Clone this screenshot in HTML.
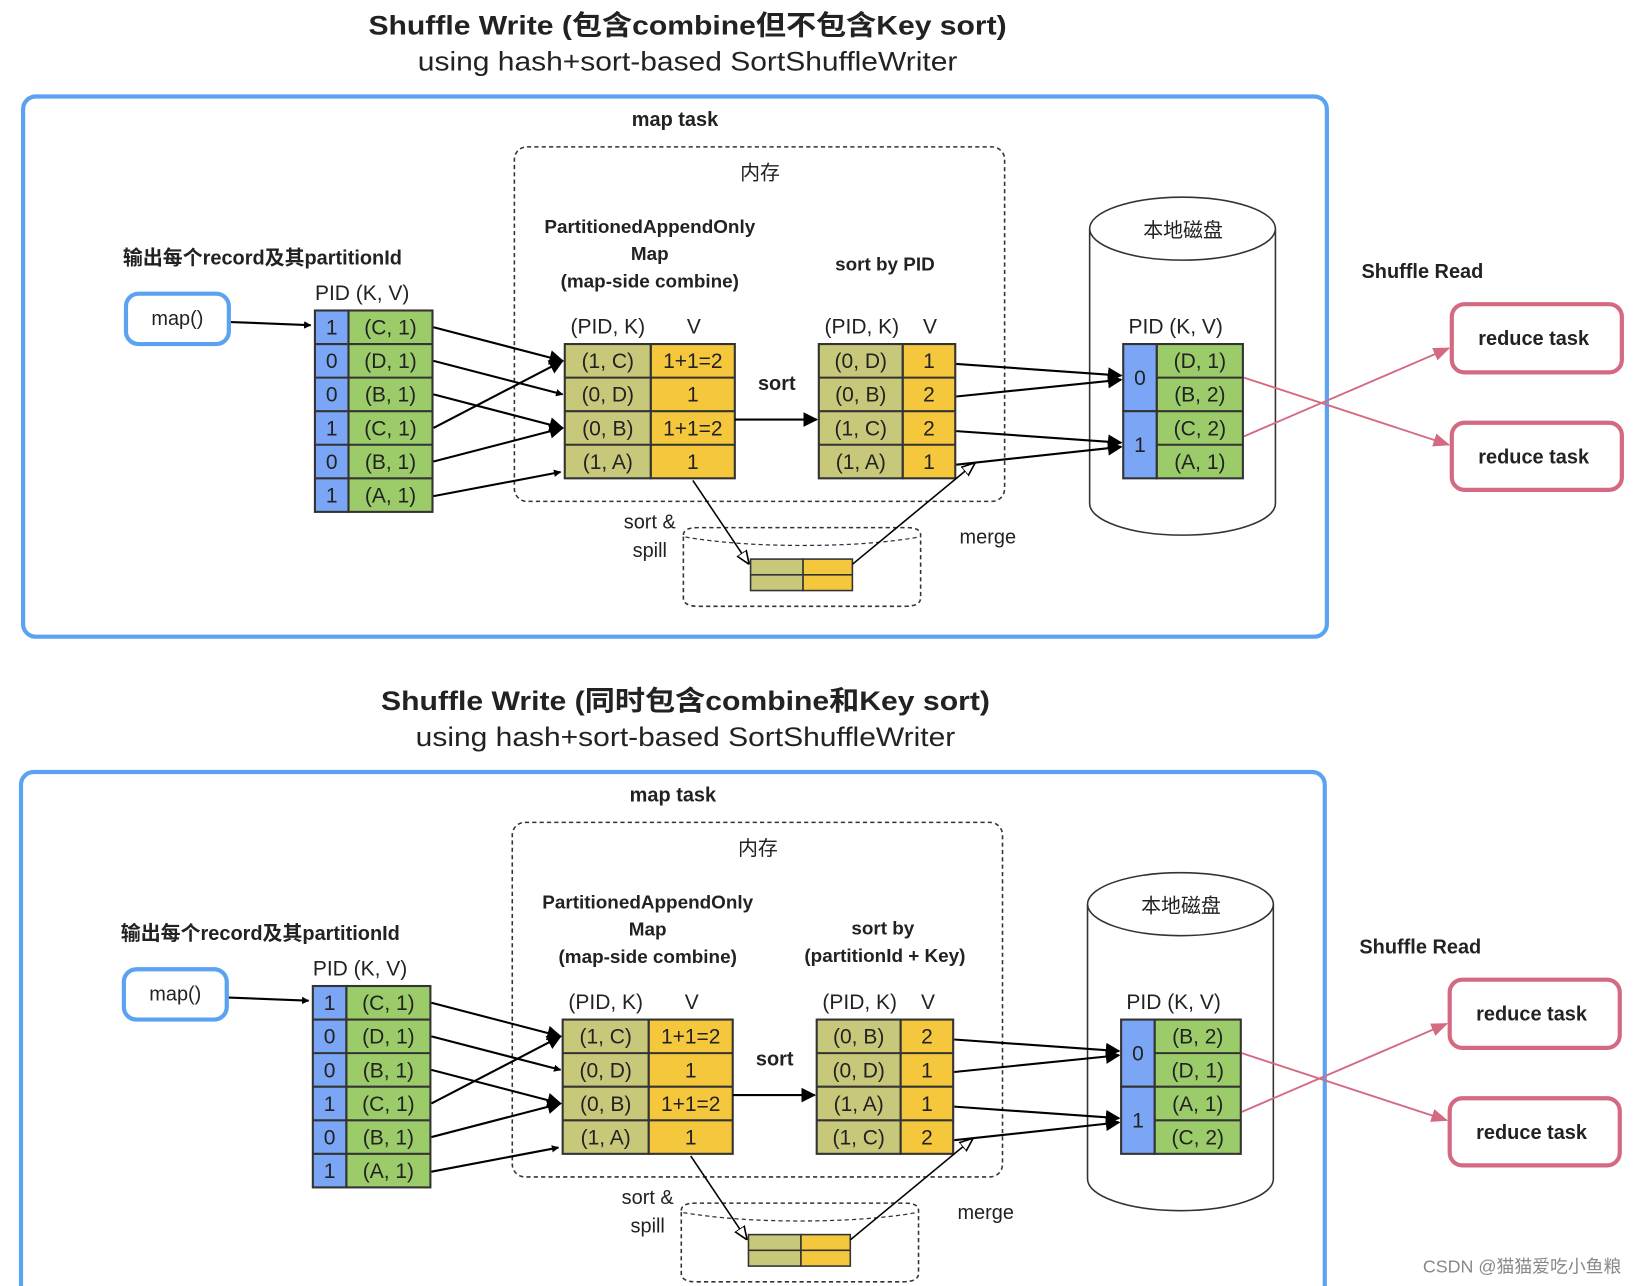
<!DOCTYPE html>
<html><head><meta charset="utf-8"><style>
html,body{margin:0;padding:0;background:#fff;width:1646px;height:1286px;overflow:hidden}
svg{display:block;overflow:hidden}
svg text{font-family:"Liberation Sans","Noto Sans CJK SC",sans-serif;fill:#222}
.b{font-weight:bold}
.c{text-anchor:middle}
</style></head><body>
<svg width="1646" height="1286" viewBox="0 0 1568 1226" preserveAspectRatio="none" xmlns="http://www.w3.org/2000/svg">
<defs>
<marker id="ah" viewBox="0 0 10 10" refX="9" refY="5" markerWidth="7" markerHeight="7" orient="auto" markerUnits="userSpaceOnUse"><path d="M0,0 L10,5 L0,10 z" fill="#000"/></marker>
<marker id="ahb" viewBox="0 0 10 10" refX="9" refY="5" markerWidth="14" markerHeight="14" orient="auto" markerUnits="userSpaceOnUse"><path d="M0,0 L10,5 L0,10 z" fill="#000"/></marker>
<marker id="ao" viewBox="0 0 10 10" refX="9" refY="5" markerWidth="13" markerHeight="13" orient="auto" markerUnits="userSpaceOnUse"><path d="M0,1 L10,5 L0,9 z" fill="#fff" stroke="#000" stroke-width="1.2"/></marker>
<marker id="ap" viewBox="0 0 10 10" refX="9" refY="5" markerWidth="16" markerHeight="16" orient="auto" markerUnits="userSpaceOnUse"><path d="M0,1 L10,5 L0,9 z" fill="#d46a82"/></marker>
</defs>

<!-- ================= TOP ================= -->
<g>
<text x="655" y="33" class="b c" font-size="26" textLength="608" lengthAdjust="spacingAndGlyphs">Shuffle Write (包含combine但不包含Key sort)</text>
<text x="655" y="67" class="c" font-size="26" textLength="514" lengthAdjust="spacingAndGlyphs">using hash+sort-based SortShuffleWriter</text>
<rect x="22" y="92" width="1242" height="515" rx="12" fill="none" stroke="#5ba3f0" stroke-width="4"/>
<text x="643" y="120" class="b c" font-size="19">map task</text>
<rect x="490" y="140" width="467" height="338" rx="12" fill="none" stroke="#333" stroke-width="1.5" stroke-dasharray="4,3"/>
<text x="724" y="171" class="c" font-size="19">内存</text>
<text x="619" y="222" class="b c" font-size="18">PartitionedAppendOnly</text>
<text x="619" y="248" class="b c" font-size="18">Map</text>
<text x="619" y="274" class="b c" font-size="18">(map-side combine)</text>
<text x="843" y="258" class="b c" font-size="18">sort by PID</text>
<text x="250" y="252" class="b c" font-size="19">输出每个record及其partitionId</text>
<rect x="120" y="280" width="98" height="48" rx="12" fill="#fff" stroke="#5ba3f0" stroke-width="4"/>
<text x="169" y="310" class="c" font-size="19">map()</text>
<line x1="220" y1="307" x2="296" y2="310" stroke="#000" stroke-width="2" marker-end="url(#ah)"/>
<text x="345" y="286" class="c" font-size="20">PID  (K, V)</text>
<g stroke="#333" stroke-width="2">
<rect x="300" y="296" width="32" height="192" fill="#7aa6f5"/>
<rect x="332" y="296" width="80" height="192" fill="#9ccc6a"/>
<line x1="300" y1="328" x2="412" y2="328"/><line x1="300" y1="360" x2="412" y2="360"/><line x1="300" y1="392" x2="412" y2="392"/><line x1="300" y1="424" x2="412" y2="424"/><line x1="300" y1="456" x2="412" y2="456"/>
</g>
<g font-size="20">
<text x="316" y="319" class="c">1</text><text x="316" y="351" class="c">0</text><text x="316" y="383" class="c">0</text><text x="316" y="415" class="c">1</text><text x="316" y="447" class="c">0</text><text x="316" y="479" class="c">1</text>
<text x="372" y="319" class="c">(C, 1)</text><text x="372" y="351" class="c">(D, 1)</text><text x="372" y="383" class="c">(B, 1)</text><text x="372" y="415" class="c">(C, 1)</text><text x="372" y="447" class="c">(B, 1)</text><text x="372" y="479" class="c">(A, 1)</text>
</g>
<g stroke="#000" stroke-width="2" fill="none">
<line x1="413" y1="312" x2="536" y2="344" marker-end="url(#ahb)"/>
<line x1="413" y1="344" x2="536" y2="376" marker-end="url(#ah)"/>
<line x1="413" y1="376" x2="536" y2="408" marker-end="url(#ahb)"/>
<line x1="413" y1="408" x2="536" y2="344" marker-end="url(#ahb)"/>
<line x1="413" y1="440" x2="536" y2="408" marker-end="url(#ahb)"/>
<line x1="413" y1="473" x2="534" y2="450" marker-end="url(#ah)"/>
</g>
<text x="579" y="318" class="c" font-size="20">(PID, K)</text><text x="661" y="318" class="c" font-size="20">V</text>
<g stroke="#333" stroke-width="2">
<rect x="538" y="328" width="82" height="128" fill="#c8c87a"/>
<rect x="620" y="328" width="80" height="128" fill="#f5c73c"/>
<line x1="538" y1="360" x2="700" y2="360"/><line x1="538" y1="392" x2="700" y2="392"/><line x1="538" y1="424" x2="700" y2="424"/>
</g>
<g font-size="20">
<text x="579" y="351" class="c">(1, C)</text><text x="579" y="383" class="c">(0, D)</text><text x="579" y="415" class="c">(0, B)</text><text x="579" y="447" class="c">(1, A)</text>
<text x="660" y="351" class="c">1+1=2</text><text x="660" y="383" class="c">1</text><text x="660" y="415" class="c">1+1=2</text><text x="660" y="447" class="c">1</text>
</g>
<text x="740" y="372" class="b c" font-size="19">sort</text>
<line x1="700" y1="400" x2="778" y2="400" stroke="#000" stroke-width="2" marker-end="url(#ahb)"/>
<text x="821" y="318" class="c" font-size="20">(PID, K)</text><text x="886" y="318" class="c" font-size="20">V</text>
<g stroke="#333" stroke-width="2">
<rect x="780" y="328" width="80" height="128" fill="#c8c87a"/>
<rect x="860" y="328" width="50" height="128" fill="#f5c73c"/>
<line x1="780" y1="360" x2="910" y2="360"/><line x1="780" y1="392" x2="910" y2="392"/><line x1="780" y1="424" x2="910" y2="424"/>
</g>
<g font-size="20">
<text x="820" y="351" class="c">(0, D)</text><text x="820" y="383" class="c">(0, B)</text><text x="820" y="415" class="c">(1, C)</text><text x="820" y="447" class="c">(1, A)</text>
<text x="885" y="351" class="c">1</text><text x="885" y="383" class="c">2</text><text x="885" y="415" class="c">2</text><text x="885" y="447" class="c">1</text>
</g>
<path d="M1038,218 L1038,480 A88,30 0 0 0 1215,480 L1215,218" fill="none" stroke="#333" stroke-width="1.5"/>
<ellipse cx="1126.5" cy="218" rx="88.5" ry="30" fill="#fff" stroke="#333" stroke-width="1.5"/>
<text x="1127" y="226" class="c" font-size="19">本地磁盘</text>
<g stroke="#000" stroke-width="2" fill="none">
<line x1="911" y1="347" x2="1068" y2="358" marker-end="url(#ahb)"/>
<line x1="911" y1="378" x2="1068" y2="362" marker-end="url(#ahb)"/>
<line x1="911" y1="411" x2="1068" y2="422" marker-end="url(#ahb)"/>
<line x1="911" y1="443" x2="1068" y2="426" marker-end="url(#ahb)"/>
</g>
<text x="1120" y="318" class="c" font-size="20">PID  (K, V)</text>
<g stroke="#333" stroke-width="2">
<rect x="1070" y="328" width="32" height="64" fill="#7aa6f5"/><rect x="1070" y="392" width="32" height="64" fill="#7aa6f5"/>
<rect x="1102" y="328" width="82" height="128" fill="#9ccc6a"/>
<line x1="1102" y1="360" x2="1184" y2="360"/><line x1="1102" y1="392" x2="1184" y2="392"/><line x1="1102" y1="424" x2="1184" y2="424"/>
</g>
<g font-size="20">
<text x="1086" y="367" class="c">0</text><text x="1086" y="431" class="c">1</text>
<text x="1143" y="351" class="c">(D, 1)</text><text x="1143" y="383" class="c">(B, 2)</text><text x="1143" y="415" class="c">(C, 2)</text><text x="1143" y="447" class="c">(A, 1)</text>
</g>
<text x="1355" y="265" class="b c" font-size="19">Shuffle Read</text>
<rect x="1383" y="290" width="162" height="65" rx="12" fill="#fff" stroke="#d46a82" stroke-width="4"/>
<rect x="1383" y="403" width="162" height="64" rx="12" fill="#fff" stroke="#d46a82" stroke-width="4"/>
<text x="1461" y="329" class="b c" font-size="19">reduce task</text>
<text x="1461" y="442" class="b c" font-size="19">reduce task</text>
<line x1="1185" y1="360" x2="1380" y2="424" stroke="#d46a82" stroke-width="1.8" marker-end="url(#ap)"/>
<line x1="1185" y1="416" x2="1380" y2="332" stroke="#d46a82" stroke-width="1.8" marker-end="url(#ap)"/>
<path d="M651,510 Q651,503 665,503 L864,503 Q877,503 877,510 L877,570 Q877,578 862,578 L665,578 Q651,578 651,570 Z" fill="#fff" stroke="#333" stroke-width="1.5" stroke-dasharray="4,3"/>
<path d="M653,512 Q700,520 764,520 Q830,520 875,512" fill="none" stroke="#333" stroke-width="1.2" stroke-dasharray="4,3"/>
<g stroke="#333" stroke-width="1.5">
<rect x="715" y="533" width="50" height="30" fill="#c8c87a"/><rect x="765" y="533" width="47" height="30" fill="#f5c73c"/>
<line x1="715" y1="548" x2="812" y2="548"/>
</g>
<line x1="660" y1="458" x2="713" y2="537" stroke="#000" stroke-width="1.5" marker-end="url(#ao)"/>
<line x1="812" y1="538" x2="928" y2="442" stroke="#000" stroke-width="1.5" marker-end="url(#ao)"/>
<text x="619" y="504" class="c" font-size="19">sort &amp;</text>
<text x="619" y="531" class="c" font-size="19">spill</text>
<text x="941" y="518" class="c" font-size="19">merge</text>
</g>

<!-- ================= BOTTOM ================= -->
<g transform="translate(-2,644)">
<text x="655" y="33" class="b c" font-size="26" textLength="580" lengthAdjust="spacingAndGlyphs">Shuffle Write (同时包含combine和Key sort)</text>
<text x="655" y="67" class="c" font-size="26" textLength="514" lengthAdjust="spacingAndGlyphs">using hash+sort-based SortShuffleWriter</text>
<rect x="22" y="92" width="1242" height="540" rx="12" fill="none" stroke="#5ba3f0" stroke-width="4"/>
<text x="643" y="120" class="b c" font-size="19">map task</text>
<rect x="490" y="140" width="467" height="338" rx="12" fill="none" stroke="#333" stroke-width="1.5" stroke-dasharray="4,3"/>
<text x="724" y="171" class="c" font-size="19">内存</text>
<text x="619" y="222" class="b c" font-size="18">PartitionedAppendOnly</text>
<text x="619" y="248" class="b c" font-size="18">Map</text>
<text x="619" y="274" class="b c" font-size="18">(map-side combine)</text>
<text x="843" y="247" class="b c" font-size="18">sort by</text>
<text x="845" y="273" class="b c" font-size="18">(partitionId + Key)</text>
<text x="250" y="252" class="b c" font-size="19">输出每个record及其partitionId</text>
<rect x="120" y="280" width="98" height="48" rx="12" fill="#fff" stroke="#5ba3f0" stroke-width="4"/>
<text x="169" y="310" class="c" font-size="19">map()</text>
<line x1="220" y1="307" x2="296" y2="310" stroke="#000" stroke-width="2" marker-end="url(#ah)"/>
<text x="345" y="286" class="c" font-size="20">PID  (K, V)</text>
<g stroke="#333" stroke-width="2">
<rect x="300" y="296" width="32" height="192" fill="#7aa6f5"/>
<rect x="332" y="296" width="80" height="192" fill="#9ccc6a"/>
<line x1="300" y1="328" x2="412" y2="328"/><line x1="300" y1="360" x2="412" y2="360"/><line x1="300" y1="392" x2="412" y2="392"/><line x1="300" y1="424" x2="412" y2="424"/><line x1="300" y1="456" x2="412" y2="456"/>
</g>
<g font-size="20">
<text x="316" y="319" class="c">1</text><text x="316" y="351" class="c">0</text><text x="316" y="383" class="c">0</text><text x="316" y="415" class="c">1</text><text x="316" y="447" class="c">0</text><text x="316" y="479" class="c">1</text>
<text x="372" y="319" class="c">(C, 1)</text><text x="372" y="351" class="c">(D, 1)</text><text x="372" y="383" class="c">(B, 1)</text><text x="372" y="415" class="c">(C, 1)</text><text x="372" y="447" class="c">(B, 1)</text><text x="372" y="479" class="c">(A, 1)</text>
</g>
<g stroke="#000" stroke-width="2" fill="none">
<line x1="413" y1="312" x2="536" y2="344" marker-end="url(#ahb)"/>
<line x1="413" y1="344" x2="536" y2="376" marker-end="url(#ah)"/>
<line x1="413" y1="376" x2="536" y2="408" marker-end="url(#ahb)"/>
<line x1="413" y1="408" x2="536" y2="344" marker-end="url(#ahb)"/>
<line x1="413" y1="440" x2="536" y2="408" marker-end="url(#ahb)"/>
<line x1="413" y1="473" x2="534" y2="450" marker-end="url(#ah)"/>
</g>
<text x="579" y="318" class="c" font-size="20">(PID, K)</text><text x="661" y="318" class="c" font-size="20">V</text>
<g stroke="#333" stroke-width="2">
<rect x="538" y="328" width="82" height="128" fill="#c8c87a"/>
<rect x="620" y="328" width="80" height="128" fill="#f5c73c"/>
<line x1="538" y1="360" x2="700" y2="360"/><line x1="538" y1="392" x2="700" y2="392"/><line x1="538" y1="424" x2="700" y2="424"/>
</g>
<g font-size="20">
<text x="579" y="351" class="c">(1, C)</text><text x="579" y="383" class="c">(0, D)</text><text x="579" y="415" class="c">(0, B)</text><text x="579" y="447" class="c">(1, A)</text>
<text x="660" y="351" class="c">1+1=2</text><text x="660" y="383" class="c">1</text><text x="660" y="415" class="c">1+1=2</text><text x="660" y="447" class="c">1</text>
</g>
<text x="740" y="372" class="b c" font-size="19">sort</text>
<line x1="700" y1="400" x2="778" y2="400" stroke="#000" stroke-width="2" marker-end="url(#ahb)"/>
<text x="821" y="318" class="c" font-size="20">(PID, K)</text><text x="886" y="318" class="c" font-size="20">V</text>
<g stroke="#333" stroke-width="2">
<rect x="780" y="328" width="80" height="128" fill="#c8c87a"/>
<rect x="860" y="328" width="50" height="128" fill="#f5c73c"/>
<line x1="780" y1="360" x2="910" y2="360"/><line x1="780" y1="392" x2="910" y2="392"/><line x1="780" y1="424" x2="910" y2="424"/>
</g>
<g font-size="20">
<text x="820" y="351" class="c">(0, B)</text><text x="820" y="383" class="c">(0, D)</text><text x="820" y="415" class="c">(1, A)</text><text x="820" y="447" class="c">(1, C)</text>
<text x="885" y="351" class="c">2</text><text x="885" y="383" class="c">1</text><text x="885" y="415" class="c">1</text><text x="885" y="447" class="c">2</text>
</g>
<path d="M1038,218 L1038,480 A88,30 0 0 0 1215,480 L1215,218" fill="none" stroke="#333" stroke-width="1.5"/>
<ellipse cx="1126.5" cy="218" rx="88.5" ry="30" fill="#fff" stroke="#333" stroke-width="1.5"/>
<text x="1127" y="226" class="c" font-size="19">本地磁盘</text>
<g stroke="#000" stroke-width="2" fill="none">
<line x1="911" y1="347" x2="1068" y2="358" marker-end="url(#ahb)"/>
<line x1="911" y1="378" x2="1068" y2="362" marker-end="url(#ahb)"/>
<line x1="911" y1="411" x2="1068" y2="422" marker-end="url(#ahb)"/>
<line x1="911" y1="443" x2="1068" y2="426" marker-end="url(#ahb)"/>
</g>
<text x="1120" y="318" class="c" font-size="20">PID  (K, V)</text>
<g stroke="#333" stroke-width="2">
<rect x="1070" y="328" width="32" height="64" fill="#7aa6f5"/><rect x="1070" y="392" width="32" height="64" fill="#7aa6f5"/>
<rect x="1102" y="328" width="82" height="128" fill="#9ccc6a"/>
<line x1="1102" y1="360" x2="1184" y2="360"/><line x1="1102" y1="392" x2="1184" y2="392"/><line x1="1102" y1="424" x2="1184" y2="424"/>
</g>
<g font-size="20">
<text x="1086" y="367" class="c">0</text><text x="1086" y="431" class="c">1</text>
<text x="1143" y="351" class="c">(B, 2)</text><text x="1143" y="383" class="c">(D, 1)</text><text x="1143" y="415" class="c">(A, 1)</text><text x="1143" y="447" class="c">(C, 2)</text>
</g>
<text x="1355" y="265" class="b c" font-size="19">Shuffle Read</text>
<rect x="1383" y="290" width="162" height="65" rx="12" fill="#fff" stroke="#d46a82" stroke-width="4"/>
<rect x="1383" y="403" width="162" height="64" rx="12" fill="#fff" stroke="#d46a82" stroke-width="4"/>
<text x="1461" y="329" class="b c" font-size="19">reduce task</text>
<text x="1461" y="442" class="b c" font-size="19">reduce task</text>
<line x1="1185" y1="360" x2="1380" y2="424" stroke="#d46a82" stroke-width="1.8" marker-end="url(#ap)"/>
<line x1="1185" y1="416" x2="1380" y2="332" stroke="#d46a82" stroke-width="1.8" marker-end="url(#ap)"/>
<path d="M651,510 Q651,503 665,503 L864,503 Q877,503 877,510 L877,570 Q877,578 862,578 L665,578 Q651,578 651,570 Z" fill="#fff" stroke="#333" stroke-width="1.5" stroke-dasharray="4,3"/>
<path d="M653,512 Q700,520 764,520 Q830,520 875,512" fill="none" stroke="#333" stroke-width="1.2" stroke-dasharray="4,3"/>
<g stroke="#333" stroke-width="1.5">
<rect x="715" y="533" width="50" height="30" fill="#c8c87a"/><rect x="765" y="533" width="47" height="30" fill="#f5c73c"/>
<line x1="715" y1="548" x2="812" y2="548"/>
</g>
<line x1="660" y1="458" x2="713" y2="537" stroke="#000" stroke-width="1.5" marker-end="url(#ao)"/>
<line x1="812" y1="538" x2="928" y2="442" stroke="#000" stroke-width="1.5" marker-end="url(#ao)"/>
<text x="619" y="504" class="c" font-size="19">sort &amp;</text>
<text x="619" y="531" class="c" font-size="19">spill</text>
<text x="941" y="518" class="c" font-size="19">merge</text>
</g>
<text x="1450" y="1213" class="c" font-size="17" style="fill:#888">CSDN @猫猫爱吃小鱼粮</text>
</svg>
</body></html>
